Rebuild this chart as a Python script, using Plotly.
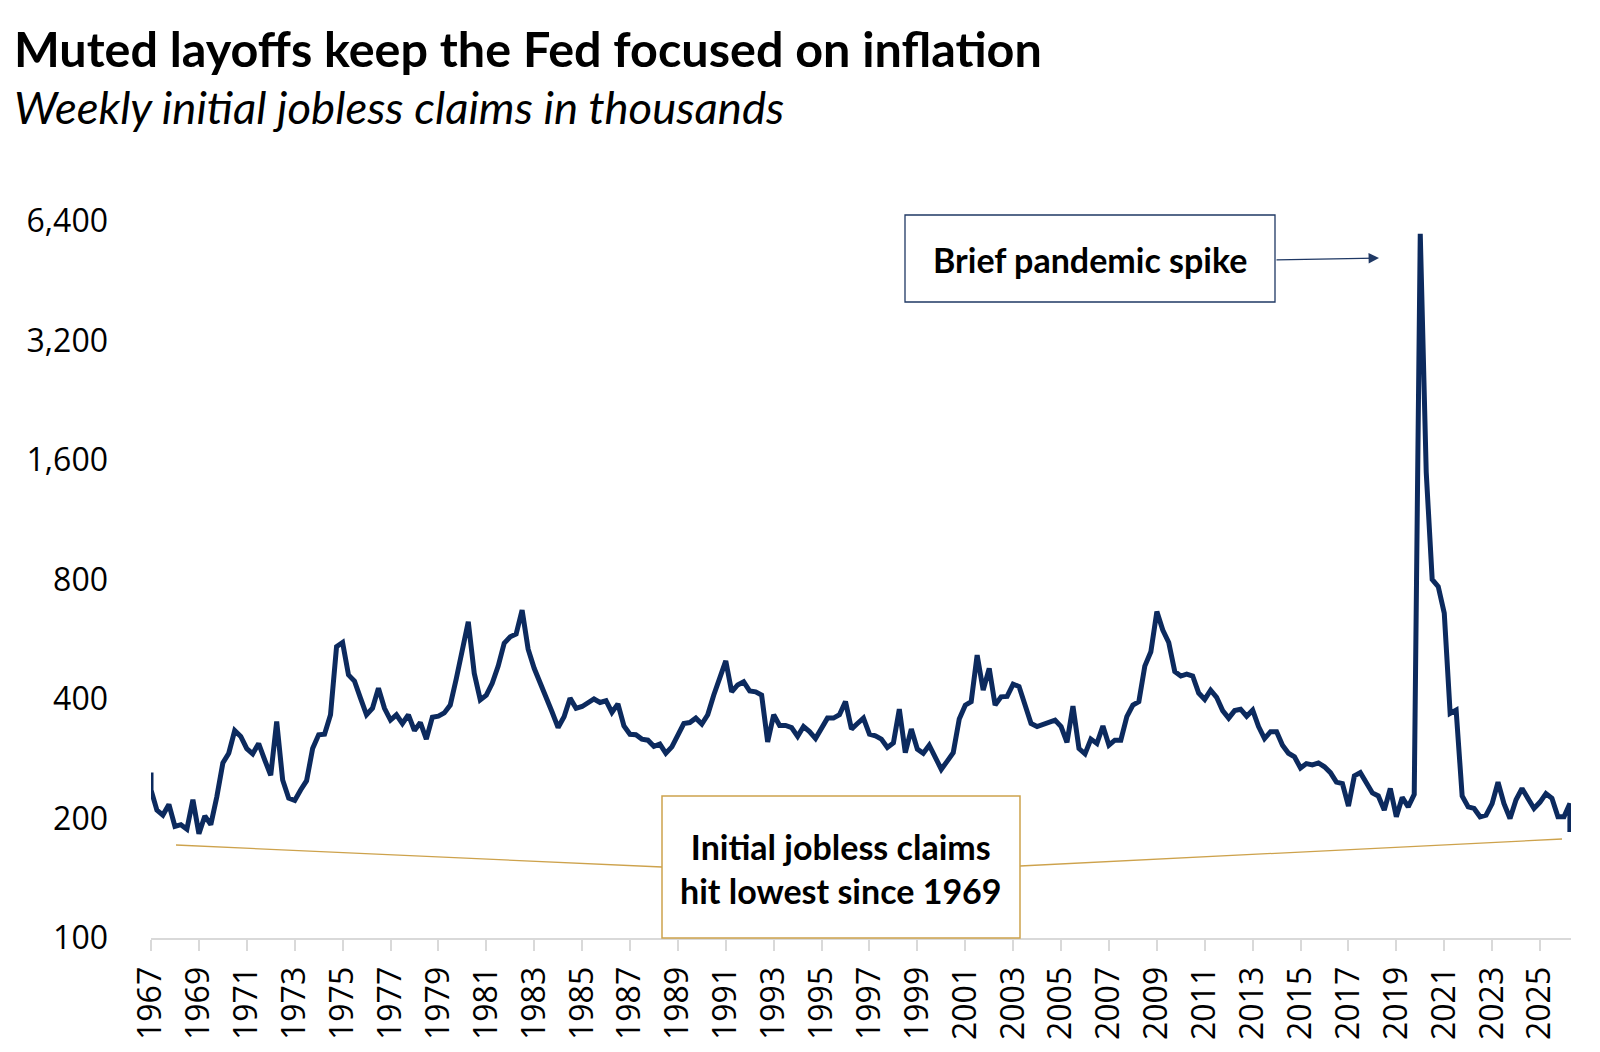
import pandas as pd
import plotly.graph_objects as go

# ---------------- data (quarterly, weekly initial claims in thousands) ----------------
title_text = "Muted layoffs keep the Fed focused on inflation"
subtitle_text = "Weekly initial jobless claims in thousands"
y_tick_values = [100, 200, 400, 800, 1600, 3200, 6400]
y_tick_labels = ["100", "200", "400", "800", "1,600", "3,200", "6,400"]

claims_1967_1986 = [
    261, 210, 204, 217, 191, 193, 188, 223, 183, 203, 193, 227,
    276, 292, 333, 322, 300, 291, 309, 281, 257, 351, 250, 225,
    222, 236, 249, 300, 325, 326, 365, 542, 555, 460, 444, 402,
    365, 379, 426, 379, 354, 365, 347, 365, 333, 349, 317, 360,
    362, 369, 386, 450, 526, 626, 464, 398, 409, 438, 484, 553,
    574, 583, 670, 534, 478, 441, 409, 371, 339, 361, 402, 379,
    383, 390, 400, 392, 396, 370, 389, 342,
]
claims_1987_2006 = [
    326, 325, 317, 315, 304, 308, 292, 303, 325, 347, 349, 358,
    346, 365, 409, 455, 499, 417, 434, 442, 419, 417, 409, 312,
    365, 343, 343, 339, 322, 341, 331, 318, 337, 358, 358, 365,
    394, 336, 347, 358, 326, 323, 317, 302, 310, 377, 293, 336,
    299, 292, 306, 286, 266, 279, 293, 356, 386, 394, 516, 421,
    478, 386, 405, 406, 436, 430, 386, 347, 341, 346, 349, 354,
    341, 311, 384, 300, 291, 317, 309, 342,
]
claims_2007_2026 = [
    306, 315, 315, 361, 386, 394, 484, 526, 664, 597, 555, 469,
    457, 462, 457, 414, 399, 421, 404, 374, 358, 374, 377, 362,
    375, 341, 318, 331, 331, 306, 292, 286, 268, 275, 273, 276,
    270, 261, 247, 245, 215, 256, 261, 247, 232, 228, 210, 238,
    202, 226, 214, 230, 5940, 1490, 800, 768, 658, 368, 375, 228,
    214, 212, 202, 204, 218, 247, 218, 200, 223, 238, 225, 212,
    220, 231, 225, 202, 202, 218,
]
first_week_value = 236   # second reading at the very start
latest_week_value = 185  # latest weekly reading at the end

quarters = list(pd.date_range("1967-01-01", "2026-04-01", freq="QS"))
claims = claims_1967_1986 + claims_1987_2006 + claims_2007_2026
dates = [quarters[0]] + quarters + [quarters[-1]]
values = [claims[0], first_week_value] + claims[1:] + [latest_week_value]

tick_dates = list(pd.date_range("1967-01-01", "2025-01-01", freq="24MS"))
tick_text = [d.strftime("%Y") for d in tick_dates]

# ---------------- layout geometry ----------------
FW, FH = 1600, 1052
L, R, T, B = 151, 29, 221, 114
PW, PH = FW - L - R, FH - T - B

def px(x):
    return (x - L) / PW

def py(y):
    return (T + PH - y) / PH

NAVY = "#0c2a5e"
GOLD = "#CDA24C"

fig = go.Figure()
fig.add_trace(go.Scatter(
    x=dates, y=values, mode="lines",
    line=dict(color=NAVY, width=5, shape="linear"),
    hoverinfo="x+y", showlegend=False,
))

annotations = [
    dict(text="<b>" + title_text + "</b>", xref="paper", yref="paper",
         x=px(12), y=py(48), xanchor="left", yanchor="middle", showarrow=False,
         font=dict(family="Lato", size=48.5, color="#000000")),
    dict(text="<i>" + subtitle_text + "</i>", xref="paper", yref="paper",
         x=px(12), y=py(106), xanchor="left", yanchor="middle", showarrow=False,
         font=dict(family="Lato", size=45.5, color="#000000")),
    dict(text="<b>Brief pandemic spike</b>", xref="paper", yref="paper",
         x=px(1090), y=py(259), xanchor="center", yanchor="middle", showarrow=False,
         font=dict(family="Lato", size=34, color="#000000")),
    dict(text="<b>Initial jobless claims</b><br><b>hit lowest since 1969</b>",
         xref="paper", yref="paper", x=px(841), y=py(868),
         xanchor="center", yanchor="middle", showarrow=False, align="center",
         font=dict(family="Lato", size=34, color="#000000")),
    # arrow to the pandemic spike
    dict(text="", xref="paper", yref="paper", x=px(1379), y=py(258),
         ax=-104, ay=2, axref="pixel", ayref="pixel", showarrow=True,
         arrowhead=2, arrowsize=1.6, arrowwidth=1.3, arrowcolor="#1f3864"),
]

shapes = [
    dict(type="rect", xref="paper", yref="paper",
         x0=px(905), x1=px(1275), y0=py(302), y1=py(215),
         line=dict(color="#1f3864", width=1.3), fillcolor="rgba(255,255,255,0)", layer="above"),
    dict(type="line", xref="paper", yref="paper",
         x0=px(176), y0=py(845), x1=px(662), y1=py(867),
         line=dict(color=GOLD, width=1.3)),
    dict(type="line", xref="paper", yref="paper",
         x0=px(1020), y0=py(866), x1=px(1562), y1=py(839),
         line=dict(color=GOLD, width=1.3)),
    dict(type="rect", xref="paper", yref="paper",
         x0=px(662), x1=px(1020), y0=py(938), y1=py(796),
         line=dict(color=GOLD, width=1.5), fillcolor="white", layer="above"),
]

fig.update_layout(
    width=FW, height=FH,
    margin=dict(l=L, r=R, t=T, b=B, pad=0),
    paper_bgcolor="white", plot_bgcolor="white",
    annotations=annotations, shapes=shapes,
    font=dict(family="Open Sans", color="#000000"),
    xaxis=dict(
        type="date", range=["1967-01-01", "2026-04-18"],
        tickmode="array", tickvals=tick_dates, ticktext=tick_text,
        tickangle=-90, tickfont=dict(family="Open Sans", size=32, color="#000000"),
        ticks="outside", ticklen=11, tickwidth=1.5, tickcolor="#d9d9d9",
        showline=True, linecolor="#d9d9d9", linewidth=2,
        showgrid=False, zeroline=False, ticklabelstandoff=3,
    ),
    yaxis=dict(
        type="log", range=[2, 3.80618],
        tickmode="array", tickvals=y_tick_values, ticktext=y_tick_labels,
        tickfont=dict(family="Open Sans", size=32, color="#000000"),
        ticks="", showline=False, showgrid=False, zeroline=False,
        ticklabelstandoff=42,
    ),
)

fig.write_html("out.html")
